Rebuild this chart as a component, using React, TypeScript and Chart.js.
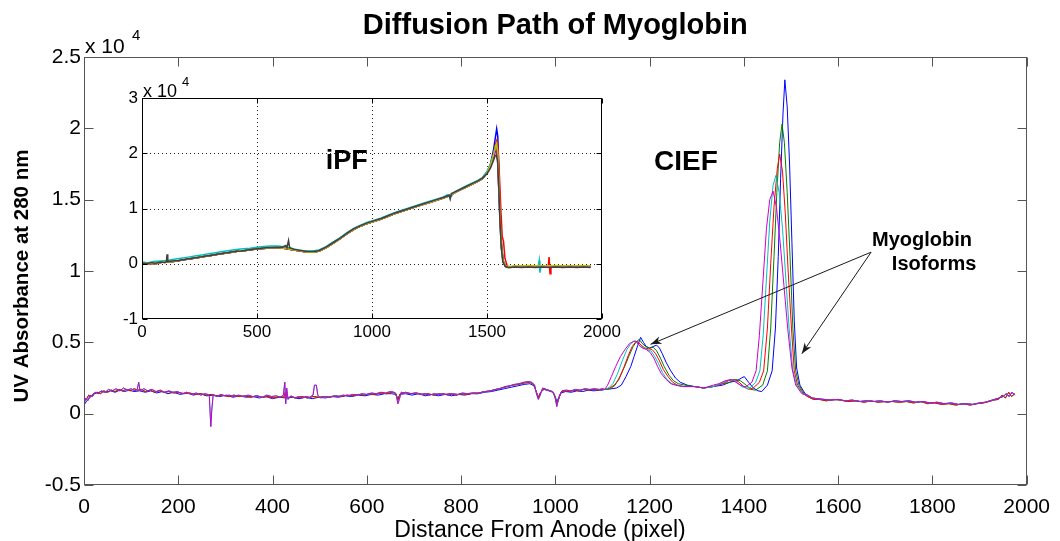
import React, { useEffect, useRef } from "react";
import { Chart, registerables } from "chart.js";

Chart.register(...registerables);

const FONT = "'Liberation Sans', Arial, Helvetica, sans-serif";

type P = [number, number];

// ================= MAIN PLOT DATA (UV absorbance, units of 10^4) =================
// Baseline 0-1100 px (three slightly different runs)
const BASE_A: P[] = [
  [0, 0.07], [4, 0.11], [8, 0.09], [13, 0.13], [18, 0.12], [24, 0.15], [30, 0.14], [37, 0.16], [45, 0.15], [52, 0.17],
  [60, 0.16], [68, 0.175], [76, 0.16], [84, 0.18], [92, 0.165], [100, 0.175], [108, 0.16], [113, 0.17], [116, 0.22], [119, 0.16],
  [127, 0.175], [135, 0.16], [144, 0.17], [153, 0.155], [162, 0.165], [171, 0.15], [180, 0.16], [189, 0.15], [198, 0.155], [208, 0.14],
  [218, 0.15], [228, 0.135], [238, 0.145], [248, 0.13], [256, 0.14], [263, 0.135], [266, 0.12], [269, -0.09], [271, 0.02], [274, 0.13],
  [282, 0.12], [290, 0.135], [298, 0.125], [308, 0.13], [318, 0.12], [328, 0.13], [338, 0.12], [348, 0.13], [358, 0.12], [368, 0.125],
  [378, 0.115], [388, 0.13], [398, 0.12], [408, 0.125], [416, 0.115], [423, 0.13], [426, 0.22], [428, 0.07], [430, 0.18], [433, 0.1],
  [439, 0.125], [447, 0.11], [455, 0.12], [463, 0.11], [471, 0.12], [479, 0.115], [486, 0.13], [489, 0.2], [493, 0.2], [496, 0.13],
  [502, 0.11], [511, 0.12], [520, 0.115], [530, 0.125], [540, 0.12], [550, 0.13], [560, 0.125], [570, 0.135], [580, 0.13], [590, 0.14],
  [600, 0.135], [610, 0.145], [620, 0.14], [630, 0.15], [640, 0.145], [650, 0.155], [658, 0.15], [663, 0.12], [666, 0.07], [669, 0.1],
  [673, 0.15], [683, 0.145], [693, 0.14], [703, 0.145], [713, 0.135], [723, 0.14], [733, 0.13], [743, 0.14], [753, 0.135], [763, 0.14],
  [773, 0.13], [783, 0.14], [793, 0.135], [803, 0.145], [813, 0.14], [823, 0.145], [833, 0.14], [843, 0.15], [853, 0.155], [863, 0.16],
  [873, 0.17], [883, 0.175], [893, 0.19], [903, 0.195], [913, 0.205], [923, 0.21], [933, 0.22], [943, 0.225], [950, 0.22], [956, 0.2],
  [960, 0.14], [964, 0.1], [968, 0.13], [973, 0.18], [980, 0.17], [988, 0.16], [996, 0.15], [1000, 0.11], [1003, 0.05], [1006, 0.09],
  [1009, 0.13], [1014, 0.16], [1023, 0.165], [1033, 0.16], [1043, 0.17], [1053, 0.165], [1063, 0.175], [1073, 0.17], [1083, 0.175], [1093, 0.17],
  [1100, 0.175],
];

const BASE_B: P[] = [
  [0, 0.09], [5, 0.1], [10, 0.13], [16, 0.12], [22, 0.145], [28, 0.15], [35, 0.14], [42, 0.16], [50, 0.15], [58, 0.165],
  [66, 0.155], [74, 0.17], [82, 0.16], [90, 0.17], [98, 0.16], [106, 0.175], [114, 0.165], [122, 0.17], [130, 0.155], [140, 0.165],
  [150, 0.15], [160, 0.16], [170, 0.15], [180, 0.155], [190, 0.145], [200, 0.15], [212, 0.14], [224, 0.145], [236, 0.135], [248, 0.14],
  [260, 0.13], [270, 0.135], [282, 0.125], [294, 0.13], [306, 0.12], [318, 0.13], [330, 0.12], [342, 0.125], [354, 0.115], [366, 0.125],
  [378, 0.115], [390, 0.12], [402, 0.11], [414, 0.12], [424, 0.115], [427, 0.15], [431, 0.11], [440, 0.12], [450, 0.11], [462, 0.12],
  [474, 0.11], [486, 0.12], [498, 0.115], [510, 0.12], [522, 0.115], [534, 0.125], [546, 0.12], [558, 0.13], [570, 0.125], [582, 0.135],
  [594, 0.13], [606, 0.14], [618, 0.135], [630, 0.145], [642, 0.14], [654, 0.15], [661, 0.145], [666, 0.095], [671, 0.14], [682, 0.15],
  [694, 0.14], [706, 0.145], [718, 0.135], [730, 0.14], [742, 0.13], [754, 0.14], [766, 0.135], [778, 0.14], [790, 0.13], [802, 0.14],
  [814, 0.135], [826, 0.145], [838, 0.145], [850, 0.155], [862, 0.16], [874, 0.17], [886, 0.18], [898, 0.19], [910, 0.2], [922, 0.205],
  [934, 0.215], [946, 0.22], [954, 0.205], [960, 0.15], [964, 0.11], [969, 0.15], [976, 0.175], [985, 0.165], [994, 0.155], [999, 0.12],
  [1003, 0.07], [1007, 0.1], [1012, 0.15], [1020, 0.16], [1030, 0.155], [1040, 0.165], [1050, 0.16], [1060, 0.17], [1070, 0.165], [1080, 0.17],
  [1090, 0.165], [1100, 0.17],
];

const BASE_C: P[] = [
  [0, 0.06], [6, 0.09], [12, 0.11], [20, 0.14], [28, 0.145], [36, 0.155], [46, 0.15], [56, 0.16], [66, 0.15], [76, 0.165],
  [86, 0.155], [96, 0.165], [106, 0.155], [118, 0.16], [130, 0.15], [142, 0.16], [154, 0.145], [166, 0.155], [178, 0.14], [190, 0.15],
  [204, 0.135], [218, 0.145], [232, 0.13], [246, 0.14], [260, 0.125], [274, 0.13], [288, 0.12], [302, 0.13], [316, 0.115], [330, 0.125],
  [344, 0.115], [358, 0.12], [372, 0.11], [386, 0.12], [400, 0.105], [414, 0.115], [428, 0.11], [442, 0.115], [456, 0.105], [470, 0.115],
  [484, 0.105], [498, 0.115], [512, 0.11], [526, 0.12], [540, 0.115], [554, 0.125], [568, 0.12], [582, 0.13], [596, 0.125], [610, 0.135],
  [624, 0.13], [638, 0.14], [652, 0.14], [662, 0.135], [666, 0.1], [670, 0.135], [682, 0.14], [696, 0.13], [710, 0.14], [724, 0.125],
  [738, 0.135], [752, 0.125], [766, 0.135], [780, 0.125], [794, 0.135], [808, 0.13], [822, 0.14], [836, 0.14], [850, 0.15], [864, 0.155],
  [878, 0.165], [892, 0.175], [906, 0.185], [920, 0.195], [934, 0.205], [946, 0.21], [955, 0.195], [960, 0.15], [964, 0.115], [969, 0.15],
  [976, 0.17], [986, 0.16], [995, 0.15], [1000, 0.12], [1003, 0.085], [1007, 0.11], [1012, 0.145], [1022, 0.155], [1034, 0.15], [1046, 0.16],
  [1058, 0.155], [1070, 0.165], [1082, 0.16], [1094, 0.165], [1100, 0.165],
];

// Isoform peaks 1105-1530 px, one array per run
const PEAK_B: P[] = [
  [1105, 0.17], [1120, 0.175], [1130, 0.18], [1140, 0.2], [1150, 0.26], [1160, 0.33], [1167, 0.4], [1175, 0.48], [1181, 0.535], [1187, 0.5],
  [1193, 0.47], [1200, 0.46], [1207, 0.47], [1215, 0.48], [1221, 0.46], [1227, 0.42], [1235, 0.36], [1245, 0.3], [1255, 0.25], [1265, 0.22],
  [1280, 0.2], [1295, 0.19], [1315, 0.18], [1335, 0.19], [1355, 0.2], [1370, 0.22], [1385, 0.23], [1395, 0.25], [1401, 0.26], [1410, 0.22],
  [1420, 0.18], [1430, 0.16], [1438, 0.155], [1450, 0.2], [1460, 0.3], [1467, 0.6], [1473, 1.1], [1478, 1.65], [1483, 2.1], [1487, 2.34],
  [1492, 2.15], [1497, 1.75], [1502, 1.2], [1507, 0.65], [1512, 0.32], [1519, 0.2], [1530, 0.14],
];
const PEAK_G: P[] = [
  [1105, 0.17], [1117, 0.175], [1127, 0.2], [1137, 0.26], [1147, 0.33], [1157, 0.41], [1165, 0.47], [1172, 0.505], [1178, 0.52], [1185, 0.49],
  [1192, 0.47], [1200, 0.46], [1208, 0.465], [1215, 0.44], [1223, 0.39], [1231, 0.33], [1241, 0.27], [1251, 0.23], [1261, 0.21], [1275, 0.2],
  [1295, 0.19], [1315, 0.18], [1335, 0.19], [1355, 0.21], [1370, 0.22], [1383, 0.24], [1393, 0.23], [1405, 0.2], [1415, 0.17], [1425, 0.165],
  [1440, 0.2], [1450, 0.3], [1457, 0.6], [1464, 1.1], [1470, 1.55], [1476, 1.9], [1481, 2.03], [1486, 1.9], [1492, 1.55], [1498, 1.1],
  [1504, 0.6], [1510, 0.3], [1517, 0.2], [1528, 0.14],
];
const PEAK_R: P[] = [
  [1105, 0.17], [1115, 0.18], [1125, 0.2], [1135, 0.24], [1145, 0.32], [1155, 0.41], [1163, 0.47], [1170, 0.5], [1175, 0.505], [1182, 0.48],
  [1190, 0.46], [1198, 0.455], [1205, 0.45], [1213, 0.42], [1221, 0.37], [1229, 0.31], [1239, 0.26], [1249, 0.22], [1259, 0.2], [1273, 0.19],
  [1295, 0.19], [1315, 0.18], [1335, 0.19], [1355, 0.21], [1367, 0.23], [1380, 0.24], [1390, 0.22], [1400, 0.19], [1410, 0.17], [1420, 0.18],
  [1433, 0.22], [1442, 0.3], [1450, 0.6], [1457, 1.05], [1464, 1.45], [1471, 1.72], [1476, 1.82], [1482, 1.7], [1488, 1.4], [1494, 1.0],
  [1501, 0.6], [1507, 0.3], [1514, 0.2], [1526, 0.14],
];
const PEAK_C: P[] = [
  [1105, 0.17], [1113, 0.18], [1122, 0.21], [1132, 0.28], [1142, 0.37], [1152, 0.45], [1160, 0.49], [1167, 0.51], [1173, 0.5], [1180, 0.47],
  [1188, 0.46], [1195, 0.45], [1203, 0.44], [1211, 0.4], [1219, 0.35], [1227, 0.29], [1237, 0.24], [1247, 0.21], [1257, 0.2], [1271, 0.19],
  [1295, 0.19], [1315, 0.18], [1335, 0.19], [1350, 0.21], [1363, 0.23], [1375, 0.24], [1385, 0.22], [1395, 0.19], [1405, 0.18], [1413, 0.18],
  [1425, 0.22], [1434, 0.3], [1441, 0.55], [1448, 0.95], [1455, 1.35], [1462, 1.6], [1468, 1.67], [1475, 1.55], [1482, 1.3], [1489, 0.95],
  [1496, 0.6], [1504, 0.3], [1512, 0.2], [1525, 0.14],
];
const PEAK_M: P[] = [
  [1105, 0.17], [1111, 0.2], [1119, 0.26], [1128, 0.33], [1138, 0.4], [1148, 0.45], [1157, 0.49], [1165, 0.505], [1171, 0.51], [1178, 0.48],
  [1185, 0.46], [1193, 0.45], [1201, 0.43], [1209, 0.39], [1217, 0.33], [1225, 0.28], [1235, 0.24], [1245, 0.21], [1255, 0.2], [1270, 0.19],
  [1295, 0.19], [1315, 0.18], [1335, 0.2], [1347, 0.21], [1360, 0.23], [1373, 0.24], [1383, 0.22], [1393, 0.2], [1400, 0.19], [1405, 0.19],
  [1417, 0.22], [1426, 0.3], [1433, 0.55], [1441, 0.95], [1448, 1.3], [1455, 1.5], [1462, 1.56], [1469, 1.45], [1477, 1.2], [1485, 0.9],
  [1493, 0.6], [1502, 0.32], [1510, 0.2], [1523, 0.14],
];

// Tail 1535-1975 px
const TAIL_A: P[] = [
  [1535, 0.13], [1545, 0.11], [1555, 0.105], [1570, 0.1], [1585, 0.095], [1600, 0.1], [1615, 0.09], [1630, 0.095], [1645, 0.085], [1660, 0.09],
  [1675, 0.085], [1690, 0.09], [1705, 0.08], [1720, 0.09], [1735, 0.085], [1750, 0.09], [1765, 0.08], [1780, 0.085], [1795, 0.075], [1810, 0.08],
  [1825, 0.07], [1840, 0.075], [1855, 0.065], [1870, 0.07], [1885, 0.065], [1900, 0.075], [1912, 0.08], [1922, 0.09], [1932, 0.1], [1942, 0.11],
  [1950, 0.12], [1957, 0.14], [1963, 0.12], [1969, 0.15], [1975, 0.13],
];
const TAIL_B: P[] = [
  [1535, 0.12], [1548, 0.1], [1560, 0.1], [1575, 0.09], [1590, 0.1], [1605, 0.095], [1620, 0.085], [1640, 0.09], [1655, 0.08], [1670, 0.09],
  [1685, 0.08], [1700, 0.085], [1715, 0.085], [1730, 0.08], [1745, 0.085], [1760, 0.075], [1775, 0.085], [1790, 0.07], [1805, 0.075], [1820, 0.065],
  [1835, 0.07], [1850, 0.06], [1865, 0.07], [1880, 0.06], [1895, 0.07], [1908, 0.075], [1920, 0.085], [1930, 0.095], [1940, 0.1], [1948, 0.13],
  [1955, 0.11], [1962, 0.15], [1968, 0.12], [1975, 0.14],
];

// ================= INSET (iPF) DATA (units of 10^4) =================
const IN_HEAD_K: P[] = [
  [0, 0.01], [20, 0.0], [40, 0.02], [60, 0.01], [80, 0.03], [100, 0.02], [106, 0.04], [109, 0.17], [112, 0.04], [130, 0.05],
  [160, 0.06], [190, 0.08], [220, 0.1], [250, 0.12], [280, 0.14], [310, 0.16], [340, 0.18], [370, 0.2], [400, 0.22], [430, 0.23],
  [460, 0.25], [500, 0.27], [540, 0.29], [580, 0.3], [610, 0.3], [625, 0.33], [630, 0.29], [637, 0.42], [642, 0.29], [660, 0.26],
  [690, 0.24], [720, 0.22], [750, 0.22], [770, 0.24], [800, 0.3], [830, 0.38], [860, 0.46], [890, 0.55], [920, 0.63], [950, 0.69],
  [980, 0.74], [1010, 0.78], [1040, 0.82], [1070, 0.87], [1100, 0.92], [1130, 0.96], [1160, 1.0], [1190, 1.04], [1220, 1.08], [1250, 1.12],
  [1280, 1.16], [1310, 1.2], [1335, 1.24], [1340, 1.17], [1345, 1.27], [1370, 1.32], [1400, 1.38], [1430, 1.44], [1460, 1.5], [1480, 1.55],
];
const IN_HEAD_C: P[] = [
  [0, 0.03], [25, 0.02], [50, 0.04], [80, 0.05], [110, 0.06], [140, 0.08], [170, 0.1], [200, 0.12], [230, 0.14], [260, 0.16],
  [290, 0.18], [320, 0.2], [350, 0.22], [380, 0.24], [410, 0.26], [440, 0.27], [470, 0.28], [500, 0.3], [530, 0.31], [560, 0.32],
  [590, 0.32], [620, 0.31], [650, 0.28], [680, 0.25], [710, 0.23], [740, 0.23], [770, 0.25], [800, 0.31], [830, 0.39], [860, 0.47],
  [890, 0.56], [920, 0.64], [950, 0.7], [980, 0.75], [1010, 0.79], [1040, 0.83], [1070, 0.88], [1100, 0.93], [1130, 0.97], [1160, 1.01],
  [1190, 1.05], [1220, 1.09], [1250, 1.13], [1280, 1.17], [1310, 1.21], [1330, 1.25], [1345, 1.22], [1360, 1.3], [1400, 1.39], [1430, 1.45],
  [1460, 1.51], [1480, 1.56],
];
const IN_HEAD_MID: P[] = [
  [0, 0.0], [30, 0.01], [60, 0.0], [90, 0.03], [120, 0.03], [150, 0.05], [180, 0.07], [210, 0.09], [240, 0.11], [270, 0.13],
  [300, 0.15], [330, 0.17], [360, 0.19], [390, 0.21], [420, 0.23], [450, 0.24], [480, 0.26], [510, 0.27], [540, 0.28], [570, 0.29],
  [600, 0.29], [630, 0.27], [660, 0.25], [690, 0.23], [720, 0.21], [750, 0.21], [775, 0.24], [800, 0.29], [830, 0.37], [860, 0.45],
  [890, 0.54], [920, 0.62], [950, 0.68], [980, 0.73], [1010, 0.77], [1040, 0.81], [1070, 0.86], [1100, 0.91], [1130, 0.95], [1160, 0.99],
  [1190, 1.03], [1220, 1.07], [1250, 1.11], [1280, 1.15], [1310, 1.19], [1340, 1.24], [1370, 1.31], [1400, 1.37], [1430, 1.43], [1460, 1.49],
  [1480, 1.54],
];
const IN_PEAK_B: P[] = [[1500, 1.66], [1515, 1.8], [1528, 2.05], [1537, 2.3], [1542, 2.44], [1547, 2.3], [1552, 1.6], [1557, 0.9], [1563, 0.35], [1570, 0.05], [1580, -0.04], [1595, -0.06]];
const IN_PEAK_G: P[] = [[1500, 1.65], [1515, 1.77], [1528, 1.98], [1537, 2.15], [1542, 2.2], [1547, 2.05], [1552, 1.5], [1557, 0.85], [1564, 0.3], [1571, 0.05], [1582, -0.04], [1595, -0.06]];
const IN_PEAK_R: P[] = [[1500, 1.64], [1515, 1.76], [1528, 1.95], [1537, 2.15], [1542, 2.22], [1548, 2.1], [1554, 1.6], [1560, 1.0], [1566, 0.5], [1572, 0.4], [1578, 0.1], [1588, -0.04], [1600, -0.06]];
const IN_PEAK_C: P[] = [[1500, 1.67], [1515, 1.8], [1528, 1.97], [1537, 2.08], [1541, 2.1], [1546, 1.95], [1551, 1.4], [1556, 0.8], [1562, 0.3], [1569, 0.04], [1580, -0.05], [1595, -0.06]];
const IN_PEAK_M: P[] = [[1500, 1.64], [1515, 1.75], [1528, 1.93], [1537, 2.03], [1541, 2.05], [1546, 1.9], [1551, 1.35], [1557, 0.75], [1563, 0.28], [1570, 0.03], [1581, -0.05], [1595, -0.06]];
const IN_PEAK_Y: P[] = [[1500, 1.65], [1515, 1.78], [1528, 1.97], [1537, 2.13], [1542, 2.18], [1547, 2.0], [1552, 1.45], [1557, 0.8], [1563, 0.3], [1570, 0.04], [1581, -0.04], [1595, -0.05]];
const IN_PEAK_K: P[] = [[1500, 1.63], [1515, 1.73], [1528, 1.87], [1536, 1.96], [1541, 1.97], [1546, 1.85], [1551, 1.4], [1556, 0.8], [1562, 0.3], [1569, 0.03], [1580, -0.05], [1595, -0.07]];
const IN_TAIL_K: P[] = [[1620, -0.06], [1650, -0.07], [1680, -0.06], [1710, -0.07], [1740, -0.06], [1770, -0.07], [1800, -0.06], [1830, -0.07], [1860, -0.06], [1890, -0.07], [1920, -0.06], [1950, -0.07]];
const IN_TAIL_C: P[] = [[1620, -0.05], [1660, -0.06], [1700, -0.05], [1722, -0.06], [1727, 0.06], [1730, -0.16], [1734, -0.06], [1770, -0.05], [1820, -0.06], [1870, -0.05], [1920, -0.06], [1950, -0.05]];
const IN_TAIL_R: P[] = [[1620, -0.06], [1670, -0.05], [1720, -0.06], [1766, -0.06], [1770, 0.12], [1774, -0.18], [1778, -0.06], [1830, -0.05], [1890, -0.06], [1950, -0.06]];
const IN_TAIL_Y: P[] = [[1620, -0.04], [1680, -0.03], [1740, -0.04], [1800, -0.03], [1860, -0.04], [1920, -0.03], [1950, -0.04]];
const IN_TAIL_MID: P[] = [[1620, -0.05], [1680, -0.06], [1740, -0.05], [1800, -0.06], [1860, -0.05], [1920, -0.06], [1950, -0.05]];

// ================= AXES / TICKS / TEXT =================
const MAIN_X_RANGE = [0, 2000];
const MAIN_X_STEP = 200;
const MAIN_Y_RANGE = [-0.5, 2.5];
const MAIN_Y_STEP = 0.5;
const INSET_X_RANGE = [0, 2000];
const INSET_X_STEP = 500;
const INSET_Y_RANGE = [-1, 3];
const INSET_Y_STEP = 1;

const TITLE = "Diffusion Path of Myoglobin";
const X_TITLE = "Distance From Anode (pixel)";
const Y_TITLE = "UV Absorbance at 280 nm";
const EXPONENT = ["x 10", "4"];

const CIEF_LABEL = { text: "CIEF", x: 1277, y: 1.76 };
const IPF_LABEL = { text: "iPF", x: 890, y: 1.85 };
const NOTE_TEXT = ["Myoglobin", "Isoforms"];
const NOTE_POS: P[] = [[1672, 1.176], [1714, 1.006]];
const ARROW_FROM: P = [1670, 1.132];
const ARROW_TIPS: P[] = [[1202, 0.486], [1523, 0.42]];

const MAIN_SERIES = [
  { label: "run 5", color: "#CC00CC", parts: [BASE_A, PEAK_M, TAIL_A] },
  { label: "run 4", color: "#00BFBF", parts: [BASE_A, PEAK_C, TAIL_A] },
  { label: "run 3", color: "#FF0000", parts: [BASE_B, PEAK_R, TAIL_B] },
  { label: "run 2", color: "#008000", parts: [BASE_B, PEAK_G, TAIL_B] },
  { label: "run 1", color: "#0000FF", parts: [BASE_C, PEAK_B, TAIL_A] },
];

const INSET_SERIES = [
  { label: "k", color: "#404040", parts: [IN_HEAD_K, IN_PEAK_K, IN_TAIL_K] },
  { label: "y", color: "#BFBF00", parts: [IN_HEAD_MID, IN_PEAK_Y, IN_TAIL_Y] },
  { label: "m", color: "#BF00BF", parts: [IN_HEAD_MID, IN_PEAK_M, IN_TAIL_MID] },
  { label: "c", color: "#00BFBF", parts: [IN_HEAD_C, IN_PEAK_C, IN_TAIL_C] },
  { label: "r", color: "#FF0000", parts: [IN_HEAD_MID, IN_PEAK_R, IN_TAIL_R] },
  { label: "g", color: "#008000", parts: [IN_HEAD_MID, IN_PEAK_G, IN_TAIL_MID] },
  { label: "b", color: "#0000FF", parts: [IN_HEAD_MID, IN_PEAK_B, IN_TAIL_MID] },
];

function pts(parts: P[][]) {
  const out: { x: number; y: number }[] = [];
  parts.forEach((arr) => arr.forEach(([x, y]) => out.push({ x, y })));
  return out;
}

function fmt(v: any) {
  const n = Number(v);
  if (Math.abs(n) < 1e-9) return "0";
  return String(Math.round(n * 10) / 10);
}

function drawArrow(ctx: CanvasRenderingContext2D, x1: number, y1: number, x2: number, y2: number) {
  ctx.beginPath();
  ctx.moveTo(x1, y1);
  ctx.lineTo(x2, y2);
  ctx.stroke();
  const a = Math.atan2(y2 - y1, x2 - x1);
  const len = 11;
  const w = 4;
  const bx = x2 - len * Math.cos(a);
  const by = y2 - len * Math.sin(a);
  ctx.beginPath();
  ctx.moveTo(x2, y2);
  ctx.lineTo(bx + w * Math.sin(a), by - w * Math.cos(a));
  ctx.lineTo(x2 - 0.7 * len * Math.cos(a), y2 - 0.7 * len * Math.sin(a));
  ctx.lineTo(bx - w * Math.sin(a), by + w * Math.cos(a));
  ctx.closePath();
  ctx.fill();
}

function drawBoxAndTicks(chart: any, color: string, tick: number) {
  const { ctx, chartArea: a, scales } = chart;
  const xs = scales.x;
  const ys = scales.y;
  const L = Math.round(a.left) + 0.5;
  const R = Math.round(a.right) - 0.5;
  const T = Math.round(a.top) + 0.5;
  const B = Math.round(a.bottom) - 0.5;
  ctx.save();
  ctx.strokeStyle = color;
  ctx.lineWidth = 1;
  ctx.setLineDash([]);
  ctx.strokeRect(L, T, R - L, B - T);
  ctx.beginPath();
  xs.ticks.forEach((t: any) => {
    const px = Math.round(xs.getPixelForValue(t.value)) + 0.5;
    ctx.moveTo(px, B);
    ctx.lineTo(px, B - tick);
    ctx.moveTo(px, T);
    ctx.lineTo(px, T + tick);
  });
  ys.ticks.forEach((t: any) => {
    const py = Math.round(ys.getPixelForValue(t.value)) + 0.5;
    ctx.moveTo(L, py);
    ctx.lineTo(L + tick, py);
    ctx.moveTo(R, py);
    ctx.lineTo(R - tick, py);
  });
  ctx.stroke();
  ctx.restore();
}

const mainDecor = {
  id: "mainDecor",
  beforeDraw(chart: any) {
    const { ctx, width, height } = chart;
    ctx.save();
    ctx.fillStyle = "#fff";
    ctx.fillRect(0, 0, width, height);
    ctx.restore();
  },
  afterDraw(chart: any) {
    const { ctx, chartArea: a, scales } = chart;
    const xs = scales.x;
    const ys = scales.y;
    drawBoxAndTicks(chart, "#555", 9);
    ctx.save();
    ctx.fillStyle = "#000";
    ctx.textBaseline = "alphabetic";
    // title
    ctx.font = `bold 29px ${FONT}`;
    ctx.textAlign = "center";
    ctx.fillText(TITLE, (a.left + a.right) / 2, 34);
    // x title
    ctx.font = `23px ${FONT}`;
    ctx.fillText(X_TITLE, 540, 537);
    // y title
    ctx.save();
    ctx.translate(22, 276);
    ctx.rotate(-Math.PI / 2);
    ctx.font = `bold 20.5px ${FONT}`;
    ctx.textBaseline = "middle";
    ctx.fillText(Y_TITLE, 0, 0);
    ctx.restore();
    // exponent
    ctx.textAlign = "left";
    ctx.font = `21px ${FONT}`;
    ctx.fillText(EXPONENT[0], a.left + 1, a.top - 4);
    ctx.font = `15px ${FONT}`;
    ctx.fillText(EXPONENT[1], a.left + 48, a.top - 17);
    // CIEF
    ctx.font = `bold 28px ${FONT}`;
    ctx.textAlign = "center";
    ctx.textBaseline = "middle";
    ctx.fillText(CIEF_LABEL.text, xs.getPixelForValue(CIEF_LABEL.x), ys.getPixelForValue(CIEF_LABEL.y));
    // note
    ctx.font = `bold 20px ${FONT}`;
    ctx.textAlign = "left";
    ctx.textBaseline = "alphabetic";
    NOTE_TEXT.forEach((t, i) => {
      ctx.fillText(t, xs.getPixelForValue(NOTE_POS[i][0]), ys.getPixelForValue(NOTE_POS[i][1]));
    });
    // arrows
    ctx.strokeStyle = "#1a1a1a";
    ctx.fillStyle = "#1a1a1a";
    ctx.lineWidth = 1;
    const fx = xs.getPixelForValue(ARROW_FROM[0]);
    const fy = ys.getPixelForValue(ARROW_FROM[1]);
    ARROW_TIPS.forEach(([tx, ty]) => {
      drawArrow(ctx, fx, fy, xs.getPixelForValue(tx), ys.getPixelForValue(ty));
    });
    ctx.restore();
  },
};

const insetDecor = {
  id: "insetDecor",
  beforeDraw(chart: any) {
    const { ctx, chartArea: a } = chart;
    ctx.save();
    ctx.fillStyle = "#fff";
    ctx.fillRect(a.left, a.top, a.right - a.left, a.bottom - a.top);
    ctx.restore();
  },
  beforeDatasetsDraw(chart: any) {
    const { ctx, chartArea: a, scales } = chart;
    const xs = scales.x;
    const ys = scales.y;
    ctx.save();
    ctx.strokeStyle = "#222";
    ctx.lineWidth = 1;
    ctx.setLineDash([1, 3]);
    ctx.beginPath();
    xs.ticks.forEach((t: any) => {
      if (t.value <= INSET_X_RANGE[0] || t.value >= INSET_X_RANGE[1]) return;
      const px = Math.round(xs.getPixelForValue(t.value)) + 0.5;
      ctx.moveTo(px, a.top);
      ctx.lineTo(px, a.bottom);
    });
    ys.ticks.forEach((t: any) => {
      if (t.value <= INSET_Y_RANGE[0] || t.value >= INSET_Y_RANGE[1]) return;
      const py = Math.round(ys.getPixelForValue(t.value)) + 0.5;
      ctx.moveTo(a.left, py);
      ctx.lineTo(a.right, py);
    });
    ctx.stroke();
    ctx.restore();
  },
  afterDraw(chart: any) {
    const { ctx, chartArea: a, scales } = chart;
    drawBoxAndTicks(chart, "#000", 5);
    ctx.save();
    ctx.fillStyle = "#000";
    ctx.textAlign = "left";
    ctx.textBaseline = "alphabetic";
    ctx.font = `18px ${FONT}`;
    ctx.fillText(EXPONENT[0], a.left + 1, a.top - 1);
    ctx.font = `13px ${FONT}`;
    ctx.fillText(EXPONENT[1], a.left + 40, a.top - 12);
    ctx.font = `bold 27px ${FONT}`;
    ctx.textAlign = "center";
    ctx.textBaseline = "middle";
    ctx.fillText(IPF_LABEL.text, scales.x.getPixelForValue(IPF_LABEL.x), scales.y.getPixelForValue(IPF_LABEL.y));
    ctx.restore();
  },
};

function makeScales(xr: number[], xstep: number, yr: number[], ystep: number, size: number, xpad: number, ypad: number, yWidth: number, xHeight: number) {
  return {
    x: {
      type: "linear" as const,
      min: xr[0],
      max: xr[1],
      grid: { display: false, drawTicks: false },
      border: { display: false },
      ticks: {
        stepSize: xstep,
        autoSkip: false,
        maxRotation: 0,
        padding: xpad,
        color: "#000",
        font: { family: FONT, size },
        callback: (v: any) => String(v),
      },
      afterFit: (s: any) => {
        s.height = xHeight;
      },
    },
    y: {
      type: "linear" as const,
      min: yr[0],
      max: yr[1],
      grid: { display: false, drawTicks: false },
      border: { display: false },
      ticks: {
        stepSize: ystep,
        autoSkip: false,
        padding: ypad,
        color: "#000",
        font: { family: FONT, size },
        callback: (v: any) => fmt(v),
      },
      afterFit: (s: any) => {
        s.width = yWidth;
      },
    },
  };
}

export default function App() {
  const mainRef = useRef<HTMLCanvasElement>(null);
  const insetRef = useRef<HTMLCanvasElement>(null);

  useEffect(() => {
    const main = new Chart(mainRef.current as HTMLCanvasElement, {
      type: "line",
      data: {
        datasets: MAIN_SERIES.map((s) => ({
          label: s.label,
          data: pts(s.parts),
          borderColor: s.color,
          backgroundColor: s.color,
          borderWidth: 1,
          pointRadius: 0,
          fill: false,
          tension: 0,
        })),
      },
      options: {
        animation: false,
        responsive: false,
        maintainAspectRatio: false,
        devicePixelRatio: 1,
        events: [],
        layout: { autoPadding: false, padding: { top: 57, right: 27, left: 0, bottom: 0 } },
        plugins: { legend: { display: false }, tooltip: { enabled: false }, title: { display: false } },
        scales: makeScales(MAIN_X_RANGE, MAIN_X_STEP, MAIN_Y_RANGE, MAIN_Y_STEP, 21, 10, 3, 84, 56),
      } as any,
      plugins: [mainDecor],
    });

    const inset = new Chart(insetRef.current as HTMLCanvasElement, {
      type: "line",
      data: {
        datasets: INSET_SERIES.map((s) => ({
          label: s.label,
          data: pts(s.parts),
          borderColor: s.color,
          backgroundColor: s.color,
          borderWidth: 1.5,
          pointRadius: 0,
          fill: false,
          tension: 0,
        })),
      },
      options: {
        animation: false,
        responsive: false,
        maintainAspectRatio: false,
        devicePixelRatio: 1,
        events: [],
        layout: { autoPadding: false, padding: { top: 34, right: 34, left: 0, bottom: 0 } },
        plugins: { legend: { display: false }, tooltip: { enabled: false }, title: { display: false } },
        scales: makeScales(INSET_X_RANGE, INSET_X_STEP, INSET_Y_RANGE, INSET_Y_STEP, 17, 3, 4, 46, 35),
      } as any,
      plugins: [insetDecor],
    });

    return () => {
      main.destroy();
      inset.destroy();
    };
  }, []);

  return (
    <div style={{ position: "absolute", left: 0, top: 0, width: 1060, height: 541, background: "#fff", overflow: "hidden" }}>
      <canvas ref={mainRef} width={1060} height={541} style={{ position: "absolute", left: 0, top: 0, width: 1060, height: 541 }} />
      <canvas ref={insetRef} width={540} height={290} style={{ position: "absolute", left: 96, top: 64, width: 540, height: 290 }} />
    </div>
  );
}
